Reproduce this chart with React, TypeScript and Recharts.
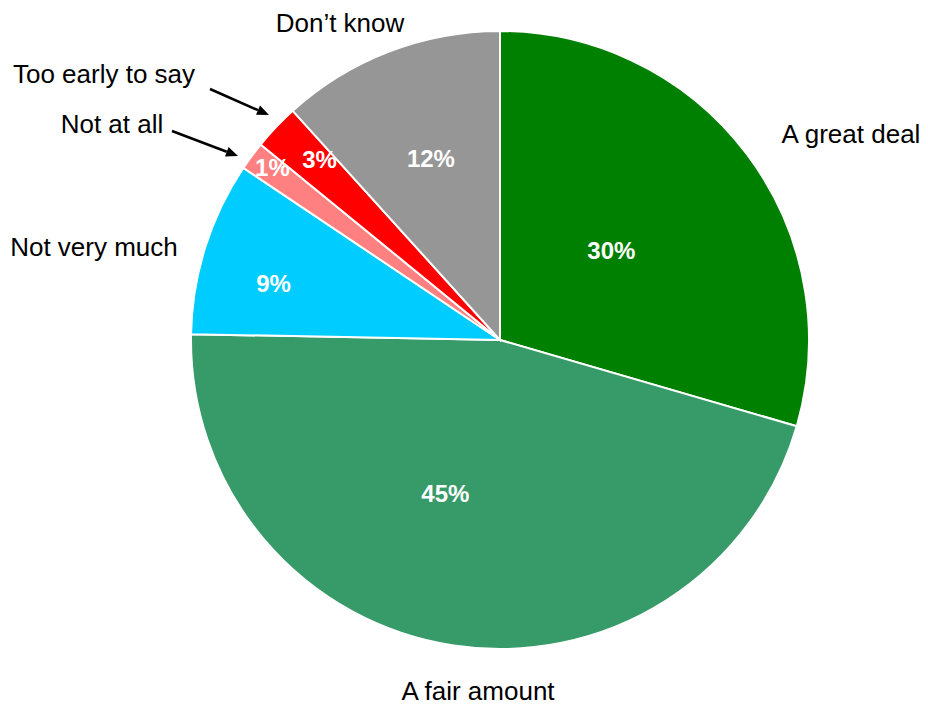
import { PieChart, Pie, Cell } from "recharts";

const categories = [
  "A great deal",
  "A fair amount",
  "Not very much",
  "Not at all",
  "Too early to say",
  "Don\u2019t know",
];
// slice sizes
const values = [29.5, 45.8, 9.1, 1.5, 2.4, 11.7];
// labels as printed on the slices
const pctLabels = ["30%", "45%", "9%", "1%", "3%", "12%"];

const COLORS = ["#008000", "#379A69", "#00CCFF", "#FF8080", "#FF0000", "#969696"];
const FONT = '"Liberation Sans", Arial, sans-serif';

// where the value sits inside each slice: fraction of radius, angle shift (deg, clockwise)
const PCT_POS = [
  { r: 0.463, shift: -2 },
  { r: 0.526, shift: 11 },
  { r: 0.755, shift: -3.5 },
  { r: 0.925, shift: 0.7 },
  { r: 0.825, shift: 1.4 },
  { r: 0.628, shift: 0.2 },
];

// category name placement relative to the pie centre (text baseline)
const NAME_POS = [
  { dx: 351, dy: -197 },
  { dx: -22, dy: 360 },
  { dx: -406, dy: -84 },
  { dx: -388, dy: -207 },
  { dx: -396, dy: -257 },
  { dx: -160, dy: -308 },
];

// arrows for the two thin slices: from / to, relative to centre
const ARROWS: Record<number, [number, number, number, number]> = {
  3: [-328, -209, -262, -184],
  4: [-290, -251, -231, -225],
};

const data = categories.map((name, i) => ({ name, value: values[i] }));

function Arrow({ x1, y1, x2, y2 }: { x1: number; y1: number; x2: number; y2: number }) {
  const a = Math.atan2(y2 - y1, x2 - x1);
  const len = 12;
  const w = 5;
  const bx = x2 - len * Math.cos(a);
  const by = y2 - len * Math.sin(a);
  const px = -Math.sin(a) * w;
  const py = Math.cos(a) * w;
  return (
    <g>
      <line x1={x1} y1={y1} x2={bx} y2={by} stroke="#000" strokeWidth={2.5} />
      <polygon points={`${x2},${y2} ${bx + px},${by + py} ${bx - px},${by - py}`} fill="#000" />
    </g>
  );
}

function renderLabel(props: any) {
  const { cx, cy, midAngle, outerRadius, index } = props;
  const pos = PCT_POS[index];
  // recharts angle -> clockwise-from-top, then apply shift
  const cw = 90 - midAngle + pos.shift;
  const rad = (cw * Math.PI) / 180;
  const r = outerRadius * pos.r;
  const x = cx + r * Math.sin(rad);
  const y = cy - r * Math.cos(rad);
  const name = NAME_POS[index];
  const arrow = ARROWS[index];
  return (
    <g>
      <text
        x={x}
        y={y + 8.6}
        textAnchor="middle"
        fill="#fff"
        fontFamily={FONT}
        fontSize={24}
        fontWeight="bold"
      >
        {pctLabels[index]}
      </text>
      <text
        x={cx + name.dx}
        y={cy + name.dy}
        textAnchor="middle"
        fill="#000"
        fontFamily={FONT}
        fontSize={26}
      >
        {categories[index]}
      </text>
      {arrow && (
        <Arrow x1={cx + arrow[0]} y1={cy + arrow[1]} x2={cx + arrow[2]} y2={cy + arrow[3]} />
      )}
    </g>
  );
}

export default function App() {
  return (
    <div style={{ position: "absolute", left: 0, top: 0, width: 928, height: 705, background: "#fff" }}>
      <PieChart width={928} height={705} margin={{ top: 0, right: 0, bottom: 0, left: 0 }}>
        <Pie
          data={data}
          dataKey="value"
          nameKey="name"
          cx={500}
          cy={340}
          outerRadius={309}
          startAngle={90}
          endAngle={-270}
          stroke="#fff"
          strokeWidth={2}
          label={renderLabel}
          labelLine={false}
          isAnimationActive={false}
        >
          {data.map((d, i) => (
            <Cell key={d.name} fill={COLORS[i]} />
          ))}
        </Pie>
      </PieChart>
    </div>
  );
}
